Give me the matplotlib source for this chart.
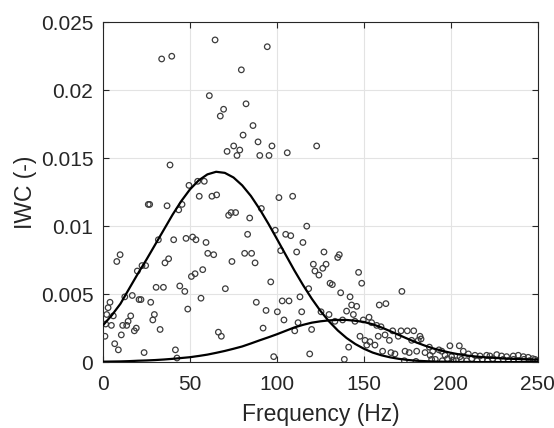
import numpy as np
import matplotlib
matplotlib.use('Agg')
import matplotlib.pyplot as plt

plt.rcParams['font.family'] = ['Liberation Sans', 'DejaVu Sans']

# scatter data (Hz, IWC)
freq = [33.7, 39.5, 64.4, 94.4, 79.5, 61.1, 69.3, 67.4, 82.2, 86.2, 80.5, 89.1, 75.1, 78.6, 71.3,
        77.0, 97.1, 90.1, 95.4, 105.9, 122.8, 38.5,
        49.4, 54.4, 58.2, 55.3, 62.6, 65.3, 26.0, 26.8, 36.8, 45.4, 43.5, 101.1, 109.0, 72.2, 73.6,
        76.2, 91.0, 84.3, 117.1, 99.0, 105.0, 107.9, 83.1, 114.9, 31.8, 40.6, 47.7, 51.5, 53.4,
        59.2, 60.2, 63.6, 102.1, 111.3, 127.0, 81.4, 85.4, 87.4, 74.1, 37.7, 35.6, 9.8, 7.9, 24.5,
        22.4, 19.7, 57.3, 52.9, 50.8, 120.9, 121.8, 124.1, 126.3, 128.2, 96.4, 130.5, 30.5, 34.7,
        44.1, 47.0, 70.3, 118.2, 113.2, 12.5, 16.8, 20.7, 21.8, 27.4, 56.3, 48.7, 88.1, 103.0,
        106.9, 4.0, 2.9, 2.1, 5.9, 15.9, 29.5, 28.6, 93.7, 100.2, 114.2, 14.4, 4.8, 11.3, 13.6,
        19.1, 18.0, 32.8, 1.1, 10.5, 66.3, 68.0, 92.0, 104.0, 110.2, 119.9, 129.9, 6.7, 8.8, 23.6,
        41.6, 42.5, 98.1, 118.8, 1.5, 112.1, 138.7,
        135.8, 134.9, 131.8, 146.9, 148.7, 136.6, 142.0, 171.8, 142.9, 145.8, 140.0, 143.9, 125.3,
        137.7, 133.3, 144.8, 149.6, 152.9, 154.4, 157.3, 159.8, 158.8, 162.6, 147.7, 150.6, 153.4,
        156.3, 151.6, 141.2, 158.2, 162.1, 166.5, 171.3, 174.9, 178.6, 164.6, 169.7, 182.2, 182.8,
        177.4, 181.2, 160.7, 165.5, 167.8, 173.6, 176.0, 180.3, 173.2, 179.9, 185.1, 187.6, 189.5,
        193.1, 194.7, 188.9, 199.4, 204.8, 207.1, 210.0, 213.8, 216.7, 220.5, 222.4, 226.3, 229.1,
        232.0, 235.8, 238.7, 241.6, 244.4, 248.3, 196.6, 200.4, 201.3, 188.0, 205.2,
        191, 195, 198, 203, 206, 209, 212, 215, 218, 221, 224, 227, 230, 233, 236, 239, 242, 245,
        247, 250]
iwc = [0.0223, 0.0225, 0.0237, 0.0232, 0.0215, 0.0196, 0.0186, 0.0181, 0.0190, 0.0174, 0.0167,
       0.0162, 0.0159, 0.0156, 0.0155, 0.0152, 0.0159, 0.0152, 0.0152, 0.0154, 0.0159, 0.0145,
       0.0130, 0.0133, 0.0133, 0.0122, 0.0122, 0.0123, 0.0116, 0.0116, 0.0115, 0.0116, 0.0112,
       0.0121, 0.0122, 0.0108, 0.0110, 0.0110, 0.0113, 0.0106, 0.0100, 0.0097, 0.0094, 0.0093,
       0.0094, 0.0088, 0.0090, 0.0090, 0.0091, 0.0092, 0.0090, 0.0088, 0.0080, 0.0079, 0.0082,
       0.0081, 0.0081, 0.0080, 0.0080, 0.0073, 0.0074, 0.0076, 0.0073, 0.0079, 0.0074, 0.0071,
       0.0071, 0.0067, 0.0068, 0.0065, 0.0063, 0.0072, 0.0067, 0.0064, 0.0069, 0.0072, 0.0059,
       0.0058, 0.0055, 0.0055, 0.0056, 0.0052, 0.0054, 0.0054, 0.0048, 0.0048, 0.0049, 0.0046,
       0.0046, 0.0044, 0.0047, 0.0039, 0.0044, 0.0045, 0.0045, 0.0044, 0.0040, 0.0035, 0.0034,
       0.0034, 0.0035, 0.0031, 0.0038, 0.0037, 0.0037, 0.0030, 0.0027, 0.0027, 0.0027, 0.0025,
       0.0023, 0.0024, 0.0019, 0.0020, 0.0022, 0.0019, 0.0025, 0.0031, 0.0023, 0.0024, 0.0035,
       0.00135, 0.0009, 0.0007, 0.0009, 0.0003, 0.0004, 0.0006, 0.0028, 0.0029, 0.0002,
       0.0079, 0.0077, 0.0057, 0.0066, 0.0058, 0.0051, 0.0048, 0.0052, 0.0042, 0.0041, 0.00375,
       0.0035, 0.0037, 0.0031, 0.0030, 0.0030, 0.0031, 0.0033, 0.0029, 0.0027, 0.0026, 0.0042,
       0.0043, 0.0019, 0.0016, 0.0015, 0.00125, 0.00125, 0.0011, 0.0019, 0.0020, 0.0023, 0.0023,
       0.0023, 0.0023, 0.0016, 0.0019, 0.0019, 0.0017, 0.0016, 0.0016, 0.0008, 0.0007, 0.0006,
       0.0008, 0.0007, 0.0008, 0.0001, 0.00005, 0.0007, 0.0011, 0.0008, 0.0009, 0.0008, 0.0002,
       0.0012, 0.0012, 0.0008, 0.0006, 0.0005, 0.00045, 0.0005, 0.00045, 0.00055, 0.00045,
       0.0004, 0.00045, 0.0005, 0.0004, 0.00035, 0.0002, 0.0005, 0.0004, 0.00015, 0.0005, 0.0004,
       0.0002, 0.0001, 0.00025, 0.0001, 0.0002, 0.0001, 0.00025, 0.0001, 0.0002, 0.0001, 0.00025,
       0.0001, 0.0002, 0.0001, 0.0002, 0.0001, 0.0002, 0.0001, 0.00025, 0.0001]

# fitted curves, read every 5 Hz
fit_x = list(range(0, 255, 5))
fit1 = [0.00271, 0.00344, 0.00429, 0.0054, 0.0065, 0.00755, 0.00865, 0.00975, 0.01085, 0.01185,
        0.01271, 0.01337, 0.01381, 0.01400, 0.01392, 0.01358, 0.0130, 0.01222, 0.01126, 0.01019,
        0.00905, 0.00789, 0.00674, 0.00566, 0.00466, 0.00376, 0.00298, 0.00232, 0.00177, 0.00133,
        0.00098, 0.00070, 0.00050, 0.00035, 0.00024, 0.00016, 0.0001, 0.00007, 0.00004, 0.00003,
        0.00002, 0.00001, 0.00001, 0, 0, 0, 0, 0, 0, 0, 0]
fit2 = [0.00003, 0.00004, 0.00005, 0.00007, 0.0001, 0.00012, 0.00015, 0.00019, 0.00024, 0.0003,
        0.00036, 0.00045, 0.00055, 0.00068, 0.00082, 0.00098, 0.00115, 0.00137, 0.0016, 0.00182,
        0.00205, 0.0023, 0.00255, 0.00274, 0.0029, 0.0030, 0.00307, 0.0031, 0.0031, 0.00304,
        0.00295, 0.00278, 0.00255, 0.00228, 0.0020, 0.00172, 0.00145, 0.00121, 0.0010, 0.00083,
        0.00068, 0.00056, 0.00047, 0.0004, 0.00035, 0.00031, 0.00027, 0.00024, 0.00022, 0.0002,
        0.00018]

yticks = [0, 0.005, 0.01, 0.015, 0.02, 0.025]
ytick_labels = ['0', '0.005', '0.01', '0.015', '0.02', '0.025']

fig = plt.figure(figsize=(5.54, 4.28), dpi=100)
ax = fig.add_axes([0.186, 0.154, 0.785, 0.794])

ax.scatter(freq, iwc, s=16, facecolors='none', edgecolors='#3c3c3c', linewidths=0.9, zorder=3)
ax.plot(fit_x, fit1, color='k', lw=1.6, zorder=4)
ax.plot(fit_x, fit2, color='k', lw=1.6, zorder=4)

ax.set_xlim(0, 250)
ax.set_ylim(0, 0.025)
ax.set_xticks([0, 50, 100, 150, 200, 250])
ax.set_yticks(yticks)
ax.set_yticklabels(ytick_labels)
ax.grid(True, color='#e3e3e3', lw=0.8)
ax.set_axisbelow(True)
ax.tick_params(direction='in', top=True, right=True, length=4, labelsize=15,
               colors='#262626', width=0.8)
ax.tick_params(axis='x', pad=9)
ax.tick_params(axis='y', pad=7)
for s in ax.spines.values():
    s.set_color('#262626')
    s.set_linewidth(0.8)

ax.set_xlabel('Frequency (Hz)', fontsize=16.5, color='#262626', labelpad=7)
ax.set_ylabel('IWC (-)', fontsize=16.5, color='#262626', labelpad=3)

fig.savefig('out.png', dpi=100)
